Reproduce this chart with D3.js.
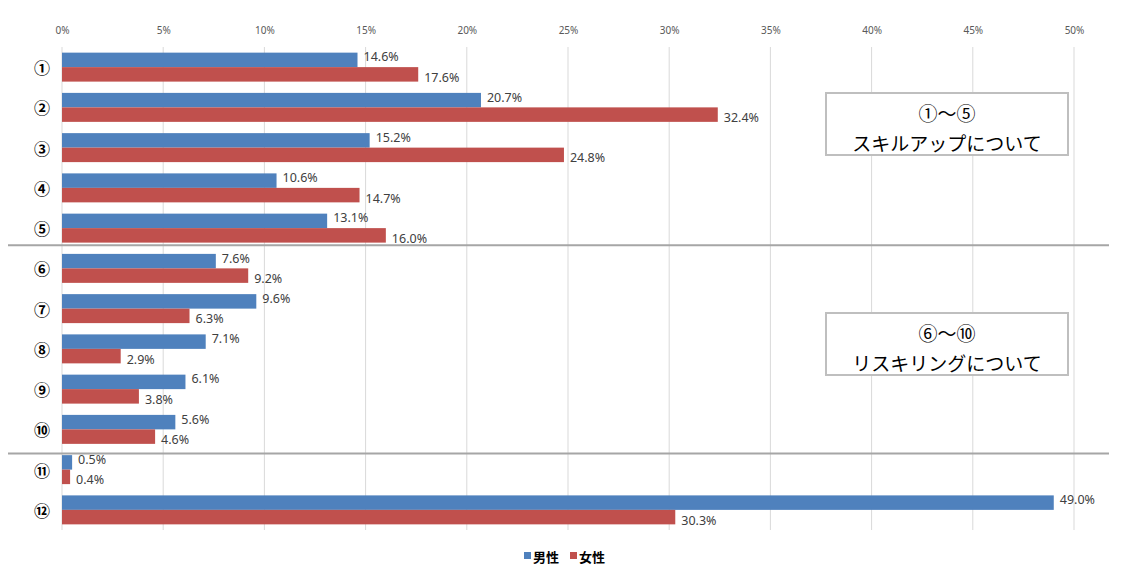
<!DOCTYPE html>
<html>
<head>
<meta charset="utf-8">
<script src="https://cdn.jsdelivr.net/npm/d3@7"></script>
<style>
  body { margin: 0; background: #fff; }
  svg { display: block; }
</style>
</head>
<body>
<div class="chart"></div>
<script>
// data
const categories = ["①", "②", "③", "④", "⑤", "⑥", "⑦", "⑧", "⑨", "⑩", "⑪", "⑫"];
const male = [14.6, 20.7, 15.2, 10.6, 13.1, 7.6, 9.6, 7.1, 6.1, 5.6, 0.5, 49.0];
const female = [17.6, 32.4, 24.8, 14.7, 16.0, 9.2, 6.3, 2.9, 3.8, 4.6, 0.4, 30.3];
const seriesNames = ["男性", "女性"];
const xTicks = [0, 5, 10, 15, 20, 25, 30, 35, 40, 45, 50];
const boxTexts = [["①～⑤", "スキルアップについて"], ["⑥～⑩", "リスキリングについて"]];

const colors = ["#4f81bd", "#c0504d"];
const W = 1123, H = 578;
const margin = { left: 62, right: 1074, top: 47, bottom: 530 };

const svg = d3.select(".chart").append("svg")
  .attr("width", W).attr("height", H);

const x = d3.scaleLinear().domain([0, 50]).range([margin.left, margin.right]);
const y = d3.scaleBand().domain(categories).range([margin.top, margin.bottom])
  .paddingInner(0.28).paddingOuter(0.14);
const sub = d3.scaleBand().domain(seriesNames).range([0, y.bandwidth()]);

// gridlines
svg.append("g").selectAll("line").data(xTicks).join("line")
  .attr("x1", d => x(d)).attr("x2", d => x(d))
  .attr("y1", margin.top).attr("y2", margin.bottom)
  .attr("stroke", "#d9d9d9").attr("stroke-width", 1);

// top axis labels
const xAxis = d3.axisTop(x).tickValues(xTicks).tickFormat(d => d + "%").tickSize(0);
svg.append("g").attr("transform", `translate(0,${margin.top - 10})`).call(xAxis)
  .call(g => g.select(".domain").remove())
  .selectAll("text")
  .attr("font-family", "'Noto Sans', sans-serif")
  .attr("font-size", 10).attr("fill", "#595959");

// category labels
svg.append("g").selectAll("text").data(categories).join("text")
  .attr("x", 42).attr("y", d => y(d) + y.bandwidth() / 2)
  .attr("text-anchor", "middle").attr("dominant-baseline", "central")
  .attr("font-family", "'Noto Sans CJK JP', sans-serif")
  .attr("font-size", 16).attr("font-weight", "bold").attr("fill", "#000")
  .text(d => d);

// bars
const rows = categories.map((c, i) => ({ c: c, vals: [male[i], female[i]] }));
const grp = svg.append("g").selectAll("g").data(rows).join("g")
  .attr("transform", d => `translate(0,${y(d.c)})`);

grp.selectAll("rect").data(d => d.vals.map((v, k) => ({ v: v, k: k }))).join("rect")
  .attr("x", x(0))
  .attr("y", d => sub(seriesNames[d.k]))
  .attr("width", d => x(d.v) - x(0))
  .attr("height", sub.bandwidth())
  .attr("fill", d => colors[d.k]);

grp.selectAll("text").data(d => d.vals.map((v, k) => ({ v: v, k: k }))).join("text")
  .attr("x", d => x(d.v) + 6)
  .attr("y", d => sub(seriesNames[d.k]) + sub.bandwidth() / 2 + (d.k === 0 ? -3 : 3))
  .attr("dominant-baseline", "central")
  .attr("font-family", "'Noto Sans', sans-serif")
  .attr("font-size", 12.5).attr("fill", "#404040")
  .text(d => d.v.toFixed(1) + "%");

// separator lines
const seps = [
  (y("⑤") + y.bandwidth() + y("⑥")) / 2 - 3,
  (y("⑩") + y.bandwidth() + y("⑪")) / 2 + 4
];
svg.append("g").selectAll("line").data(seps).join("line")
  .attr("x1", 8).attr("x2", 1109)
  .attr("y1", d => d).attr("y2", d => d)
  .attr("stroke", "#a6a6a6").attr("stroke-width", 2);

// annotation boxes
const boxY = [93, 313];
const boxes = svg.append("g").selectAll("g").data(boxTexts).join("g")
  .attr("transform", (d, i) => `translate(826,${boxY[i]})`);
boxes.append("rect")
  .attr("width", 242).attr("height", 62)
  .attr("fill", "#fff").attr("stroke", "#bfbfbf").attr("stroke-width", 2);
boxes.selectAll("text").data(d => d).join("text")
  .attr("x", 121).attr("y", (d, i) => 19 + i * 30)
  .attr("text-anchor", "middle").attr("dominant-baseline", "central")
  .attr("font-family", "'Noto Sans CJK JP', sans-serif")
  .attr("font-size", 19).attr("font-weight", 400).attr("fill", "#000")
  .text(d => d);

// legend
const legend = svg.append("g").attr("transform", "translate(524,556)");
const lg = legend.selectAll("g").data(seriesNames).join("g")
  .attr("transform", (d, i) => `translate(${i * 46},0)`);
lg.append("rect").attr("x", 0).attr("y", -4).attr("width", 7).attr("height", 7)
  .attr("fill", (d, i) => colors[i]);
lg.append("text").attr("x", 9).attr("y", 0)
  .attr("dominant-baseline", "central")
  .attr("font-family", "'Noto Sans CJK JP', sans-serif")
  .attr("font-size", 13).attr("font-weight", "bold").attr("fill", "#000")
  .text(d => d);
</script>
</body>
</html>
